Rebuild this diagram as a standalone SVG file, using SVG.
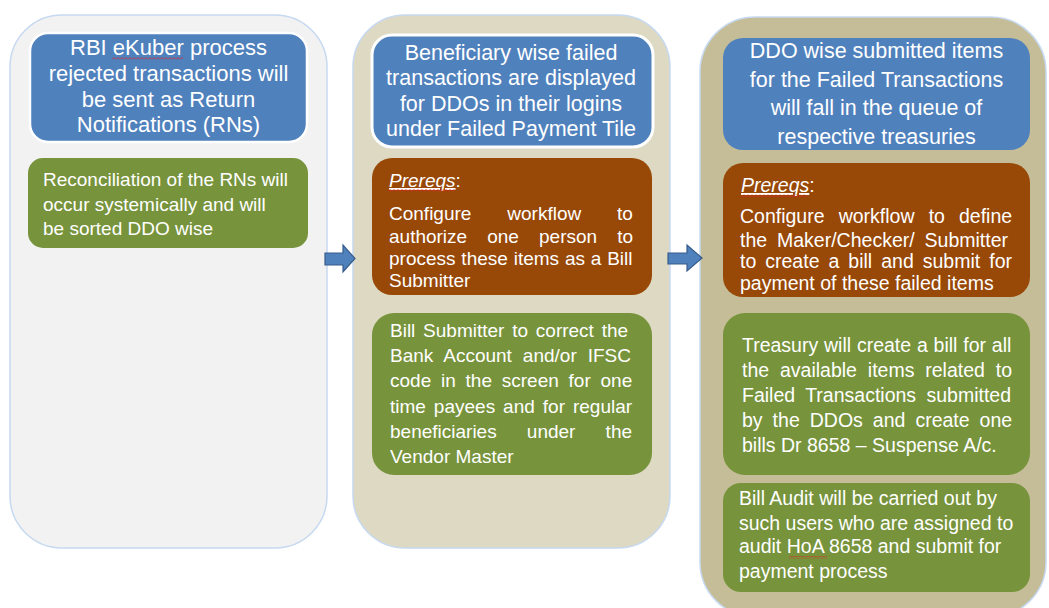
<svg xmlns="http://www.w3.org/2000/svg" width="1049" height="608" viewBox="0 0 1049 608">
<style>
.t{font-family:"Liberation Sans",Arial,sans-serif;fill:#ffffff}
.h{font-size:21.5px;text-anchor:middle}
.b{font-size:19px}
.b3{font-size:19.5px}
.col{stroke:#c6d9f1;stroke-width:1.5}
.blue{fill:#4f81bd}
.brown{fill:#984807}
.green{fill:#77933c}
.arrow{fill:#4f81bd;stroke:#385d8a;stroke-width:1.2}
.sq{fill:url(#zig)}
</style>
<defs>
<pattern id="zig" width="4" height="3" patternUnits="userSpaceOnUse">
<path d="M0 2.5 L2 0.5 L4 2.5" fill="none" stroke="#e02020" stroke-width="0.8"/>
</pattern>
</defs>
<rect width="1049" height="608" fill="#ffffff"/>

<g id="column1">
<rect class="col" x="10" y="15" width="317" height="533" rx="52" fill="#f2f2f2"/>
</g>
<g id="column2">
<rect class="col" x="353" y="15" width="317" height="533" rx="52" fill="#ddd9c3"/>
</g>
<g id="column3">
<rect class="col" x="700" y="17" width="346" height="600" rx="55" fill="#c4bd97"/>
</g>

<g id="n1-header">
<rect class="blue" x="30" y="33" width="277" height="109" rx="18" stroke="#ffffff" stroke-width="2.5"/>
<text class="t h" style="font-size:22px" x="168.5" y="55">RBI eKuber process</text>
<text class="t h" style="font-size:22px" x="168.5" y="81">rejected transactions will</text>
<text class="t h" style="font-size:22px" x="168.5" y="107">be sent as Return</text>
<text class="t h" style="font-size:22px" x="168.5" y="132">Notifications (RNs)</text>
<rect class="sq" x="112" y="57" width="71" height="3"/>
</g>

<g id="n1-reconcile">
<rect class="green" x="28" y="158" width="280" height="90" rx="15"/>
<text class="t b" x="43" y="186">Reconciliation of the RNs will</text>
<text class="t b" x="43" y="211">occur systemically and will</text>
<text class="t b" x="43" y="235">be sorted DDO wise</text>
</g>

<g id="n2-header">
<rect class="blue" x="372" y="35" width="281" height="112" rx="20" stroke="#ffffff" stroke-width="3"/>
<text class="t h" x="511" y="60">Beneficiary wise failed</text>
<text class="t h" x="511" y="85">transactions are displayed</text>
<text class="t h" x="511" y="111">for DDOs in their logins</text>
<text class="t h" x="511" y="136">under Failed Payment Tile</text>
</g>

<g id="n2-prereqs">
<rect class="brown" x="372" y="158" width="280" height="137" rx="20"/>
<text class="t b" x="389" y="187"><tspan font-style="italic" text-decoration="underline">Prereqs</tspan>:</text>
<rect class="sq" x="388" y="189" width="67" height="3"/>
<text class="t b" x="389" y="220" word-spacing="30.6">Configure workflow to</text>
<text class="t b" x="389" y="243" word-spacing="14.8">authorize one person to</text>
<text class="t b" x="389" y="265" word-spacing="0.55">process these items as a Bill</text>
<text class="t b" x="389" y="287">Submitter</text>
</g>

<g id="n2-correct">
<rect class="green" x="372" y="313" width="280" height="162" rx="22"/>
<text class="t b" x="390" y="337" word-spacing="2.5">Bill Submitter to correct the</text>
<text class="t b" x="390" y="362" word-spacing="5.7">Bank Account and/or IFSC</text>
<text class="t b" x="390" y="387" word-spacing="4.5">code in the screen for one</text>
<text class="t b" x="390" y="413" word-spacing="2.7">time payees and for regular</text>
<text class="t b" x="390" y="438" word-spacing="24.9">beneficiaries under the</text>
<text class="t b" x="390" y="463">Vendor Master</text>
</g>

<g id="n3-header">
<rect class="blue" x="723" y="38" width="307" height="112" rx="20"/>
<text class="t h" x="876.5" y="58">DDO wise submitted items</text>
<text class="t h" x="876.5" y="87">for the Failed Transactions</text>
<text class="t h" x="876.5" y="115">will fall in the queue of</text>
<text class="t h" x="876.5" y="144">respective treasuries</text>
</g>

<g id="n3-prereqs">
<rect class="brown" x="723" y="163" width="307" height="134" rx="20"/>
<text class="t b3" x="741" y="192"><tspan font-style="italic" text-decoration="underline">Prereqs</tspan>:</text>
<rect class="sq" x="741" y="194" width="66" height="3"/>
<text class="t b3" x="740" y="223" word-spacing="8.7">Configure workflow to define</text>
<text class="t b3" x="740" y="247" word-spacing="4.5">the Maker/Checker/ Submitter</text>
<text class="t b3" x="740" y="268" word-spacing="3.6">to create a bill and submit for</text>
<text class="t b3" x="740" y="290">payment of these failed items</text>
</g>

<g id="n3-treasury">
<rect class="green" x="723" y="313" width="307" height="162" rx="22"/>
<text class="t b3" x="742" y="352" word-spacing="0.4">Treasury will create a bill for all</text>
<text class="t b3" x="742" y="377" word-spacing="5.45">the available items related to</text>
<text class="t b3" x="742" y="402" word-spacing="5">Failed Transactions submitted</text>
<text class="t b3" x="742" y="427" word-spacing="4.6">by the DDOs and create one</text>
<text class="t b3" x="742" y="452">bills Dr 8658 – Suspense A/c.</text>
</g>

<g id="n3-audit">
<rect class="green" x="723" y="483" width="307" height="109" rx="18"/>
<text class="t b3" x="739" y="505">Bill Audit will be carried out by</text>
<text class="t b3" x="739" y="530">such users who are assigned to</text>
<text class="t b3" x="739" y="553">audit HoA 8658 and submit for</text>
<text class="t b3" x="739" y="578">payment process</text>
<rect class="sq" x="789" y="556" width="38" height="3"/>
</g>

<g id="connectors">
<polygon class="arrow" points="325,253 343,253 343,245 355,258.5 343,272 343,265 325,265"/>
<polygon class="arrow" points="668,253 687,253 687,245 702,258 687,271 687,264 668,264"/>
</g>
</svg>
